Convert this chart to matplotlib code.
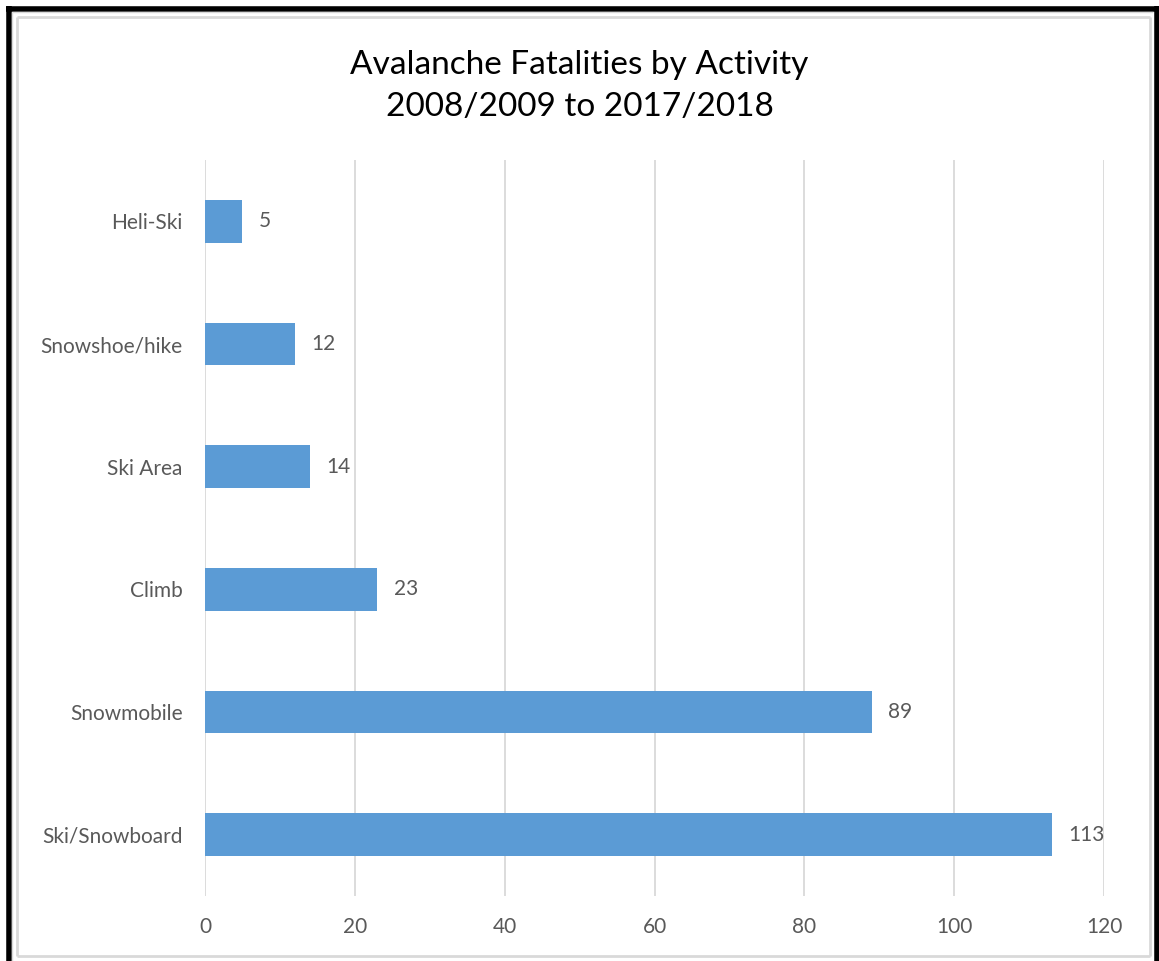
import matplotlib

matplotlib.use("Agg")
import matplotlib.pyplot as plt
from matplotlib.lines import Line2D

# data, top to bottom as shown
activities = ["Heli-Ski", "Snowshoe/hike", "Ski Area", "Climb", "Snowmobile", "Ski/Snowboard"]
fatalities = [5, 12, 14, 23, 89, 113]
x_ticks = [0, 20, 40, 60, 80, 100, 120]

W, H = 1159, 961
BAR = "#5B9BD5"
GREY_TXT = "#595959"
GRID = "#D9D9D9"

plt.rcParams["font.family"] = ["Lato", "DejaVu Sans"]

fig = plt.figure(figsize=(W / 100, H / 100), dpi=100)
ax = fig.add_axes([205 / W, 1 - 896 / H, (1104 - 205) / W, (896 - 160) / H])

ypos = list(range(len(activities)))
ax.barh(ypos, fatalities, height=0.35, color=BAR, zorder=3)
for y, v in zip(ypos, fatalities):
    ax.annotate(str(v), (v, y), xytext=(12, 0), textcoords="offset points",
                va="center", ha="left", fontsize=15, color=GREY_TXT)

ax.set_ylim(len(activities) - 0.5, -0.5)
ax.set_xlim(0, 120)
ax.set_yticks(ypos)
ax.set_yticklabels(activities)
ax.set_xticks(x_ticks)
ax.tick_params(axis="both", length=0, labelsize=15, labelcolor=GREY_TXT)
ax.tick_params(axis="y", pad=16)
ax.tick_params(axis="x", pad=15)
ax.grid(axis="x", color=GRID, lw=1.3, zorder=0)
for s in ax.spines.values():
    s.set_visible(False)

fig.text(0.5, 1 - 86 / H, "Avalanche Fatalities by Activity\n2008/2009 to 2017/2018",
         ha="center", va="center", fontsize=24, color="black", linespacing=1.53)


# frame around the chart (black outer box, grey chart-area border)
def px_line(x0, y0, x1, y1, color, lw):
    fig.add_artist(Line2D([x0 / W, x1 / W], [1 - y0 / H, 1 - y1 / H],
                          transform=fig.transFigure, color=color, lw=lw,
                          solid_capstyle="butt"))


px_line(8.5, 6, 8.5, H, "black", 4)
px_line(6, 8.5, W, 8.5, "black", 4)
px_line(1156.5, 6, 1156.5, H, "black", 4)
px_line(12, 12, 12, H, GRID, 1)
px_line(12, 12, 1153, 12, GRID, 1)
px_line(17, 17, 17, 956, GRID, 2)
px_line(17, 17, 1150, 17, GRID, 2)
px_line(1150, 17, 1150, 956, GRID, 2)
px_line(17, 956, 1150, 956, GRID, 2)

fig.savefig("out.png", dpi=100)
